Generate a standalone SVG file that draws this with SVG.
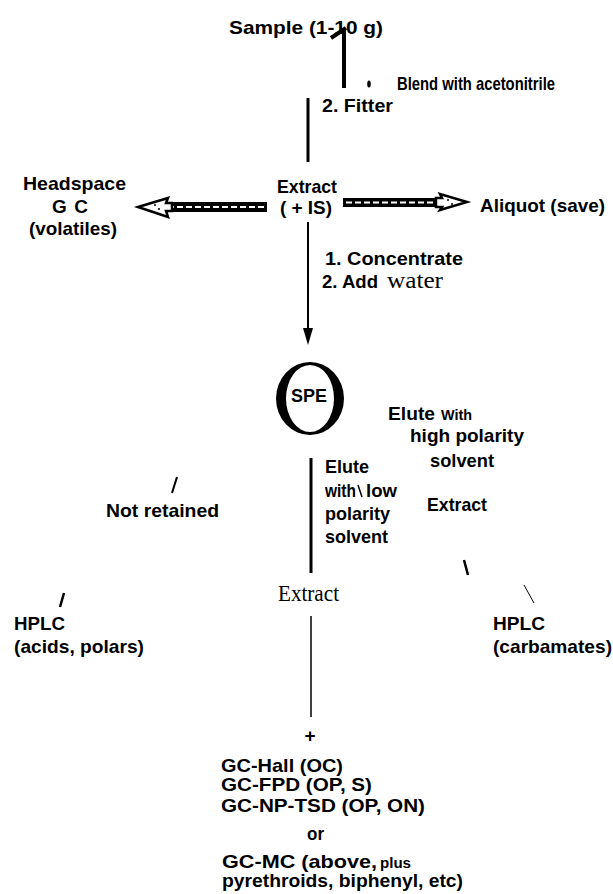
<svg xmlns="http://www.w3.org/2000/svg" width="613" height="894" viewBox="0 0 613 894">
<style>
.b{font-family:"Liberation Sans",Arial,sans-serif;font-weight:bold;font-size:19px;fill:#000}
.sm{font-size:14px}
.se{font-family:"Liberation Serif","Times New Roman",serif;font-weight:normal;font-size:23px;fill:#000}
.ln{stroke:#000;fill:none;stroke-linecap:butt}
.arr{fill:#fff;stroke:#000;stroke-width:2.5;stroke-linejoin:miter}
.dash{stroke:#fff;stroke-width:2;stroke-dasharray:6 3;fill:none}
</style>
<rect width="613" height="894" fill="#fff"/>
<g id="connectors">
  <line class="ln" x1="344" y1="28" x2="344" y2="88" stroke-width="4"/>
  <line class="ln" x1="331" y1="38" x2="346" y2="28" stroke-width="4"/>
  <ellipse cx="369" cy="84" rx="1.8" ry="3.5" fill="#000"/>
  <line class="ln" x1="308" y1="98" x2="308" y2="162" stroke-width="3"/>
  <line class="ln" x1="308" y1="222" x2="308" y2="332" stroke-width="2"/>
  <path d="M303,328 L313,328 L308,345 Z" fill="#000"/>
  <g id="arrow-left">
    <rect x="165" y="202" width="102" height="10" fill="#000"/>
    <line class="dash" x1="168" y1="207" x2="264" y2="207"/>
    <path class="arr" d="M138,207 L168,198 L166,203 L172,203 L172,211 L166,211 L168,217 Z"/>
    <circle cx="155" cy="205" r="1" fill="#000"/>
    <circle cx="159" cy="209" r="1" fill="#000"/>
  </g>
  <g id="arrow-right">
    <rect x="343" y="198" width="100" height="9" fill="#000"/>
    <line class="dash" x1="346" y1="202.5" x2="440" y2="202.5"/>
    <path class="arr" d="M467,202 L440,194 L442,198 L436,198 L436,207 L442,207 L440,210 Z"/>
    <circle cx="448" cy="200" r="1" fill="#000"/>
    <circle cx="452" cy="204" r="1" fill="#000"/>
  </g>
  <line class="ln" x1="311" y1="458" x2="311" y2="573" stroke-width="3"/>
  <line class="ln" x1="358" y1="485" x2="362" y2="497" stroke-width="1.5"/>
  <line class="ln" x1="177" y1="477" x2="172" y2="493" stroke-width="2"/>
  <line class="ln" x1="464" y1="560" x2="468" y2="575" stroke-width="2.5"/>
  <line class="ln" x1="311" y1="616" x2="311" y2="717" stroke-width="1.5"/>
  <line class="ln" x1="64" y1="593" x2="60" y2="607" stroke-width="2.5"/>
  <line class="ln" x1="524" y1="585" x2="534" y2="603" stroke-width="1"/>
  <text class="b" x="310" y="742" text-anchor="middle" font-size="14">+</text>
</g>
<g id="sample"><text class="b" x="229" y="34" font-size="20" textLength="154" lengthAdjust="spacingAndGlyphs">Sample (1-10 g)</text></g>
<g id="blend"><text class="b" x="397" y="90" font-size="18" textLength="158" lengthAdjust="spacingAndGlyphs">Blend  with  acetonitrile</text></g>
<g id="fitter"><text class="b" x="322" y="112" textLength="71" lengthAdjust="spacingAndGlyphs">2. Fitter</text></g>
<g id="headspace">
  <text class="b" x="23" y="190" textLength="103" lengthAdjust="spacingAndGlyphs">Headspace</text>
  <text class="b" x="52" y="213" textLength="36" lengthAdjust="spacing">GC</text>
  <text class="b" x="29" y="235" textLength="88" lengthAdjust="spacingAndGlyphs">(volatiles)</text>
</g>
<g id="extract1">
  <text class="b" x="277" y="193" font-size="18" textLength="60" lengthAdjust="spacingAndGlyphs">Extract</text>
  <text class="b" x="280" y="214" font-size="18" textLength="52" lengthAdjust="spacingAndGlyphs">( + IS)</text>
</g>
<g id="aliquot"><text class="b" x="480" y="212" textLength="125" lengthAdjust="spacingAndGlyphs">Aliquot  (save)</text></g>
<g id="concentrate">
  <text class="b" x="325" y="265" textLength="138" lengthAdjust="spacingAndGlyphs">1.  Concentrate</text>
  <text class="b" x="322" y="288" textLength="56" lengthAdjust="spacingAndGlyphs">2. Add</text>
  <text class="se" x="387" y="288" textLength="56" lengthAdjust="spacingAndGlyphs">water</text>
</g>
<g id="spe">
  <path d="M276,398.5 A34,36.5 0 1,0 344,398.5 A34,36.5 0 1,0 276,398.5 Z M286,398.5 A24,33.5 0 1,1 334,398.5 A24,33.5 0 1,1 286,398.5 Z" fill="#000" fill-rule="evenodd"/>
  <text class="b" x="291" y="402" font-size="18" textLength="36" lengthAdjust="spacingAndGlyphs">SPE</text>
</g>
<g id="elute-high">
  <text class="b" x="388" y="420" textLength="47" lengthAdjust="spacingAndGlyphs">Elute</text>
  <text class="b sm" x="441" y="420" textLength="31" lengthAdjust="spacingAndGlyphs">With</text>
  <text class="b" x="410" y="442" textLength="114" lengthAdjust="spacingAndGlyphs">high  polarity</text>
  <text class="b" x="430" y="467" textLength="64" lengthAdjust="spacingAndGlyphs">solvent</text>
</g>
<g id="extract-right"><text class="b" x="427" y="511" textLength="60" lengthAdjust="spacingAndGlyphs">Extract</text></g>
<g id="elute-low">
  <text class="b" x="325" y="473" textLength="44" lengthAdjust="spacingAndGlyphs">Elute</text>
  <text class="b" x="325" y="497" textLength="31" lengthAdjust="spacingAndGlyphs">with</text>
  <text class="b" x="366" y="497" textLength="31" lengthAdjust="spacingAndGlyphs">low</text>
  <text class="b" x="325" y="520" textLength="65" lengthAdjust="spacingAndGlyphs">polarity</text>
  <text class="b" x="325" y="543" textLength="63" lengthAdjust="spacingAndGlyphs">solvent</text>
</g>
<g id="not-retained"><text class="b" x="106" y="517" textLength="113" lengthAdjust="spacingAndGlyphs">Not  retained</text></g>
<g id="extract-serif"><text class="se" x="278" y="601" textLength="61" lengthAdjust="spacingAndGlyphs">Extract</text></g>
<g id="hplc-left">
  <text class="b" x="14" y="630" textLength="51" lengthAdjust="spacingAndGlyphs">HPLC</text>
  <text class="b" x="14" y="653" textLength="130" lengthAdjust="spacingAndGlyphs">(acids,  polars)</text>
</g>
<g id="hplc-right">
  <text class="b" x="493" y="630" textLength="52" lengthAdjust="spacingAndGlyphs">HPLC</text>
  <text class="b" x="493" y="653" textLength="119" lengthAdjust="spacingAndGlyphs">(carbamates)</text>
</g>
<g id="gc">
  <text class="b" x="221" y="772" textLength="122" lengthAdjust="spacingAndGlyphs">GC-Hall  (OC)</text>
  <text class="b" x="221" y="791" textLength="151" lengthAdjust="spacingAndGlyphs">GC-FPD  (OP,  S)</text>
  <text class="b" x="221" y="812" textLength="204" lengthAdjust="spacingAndGlyphs">GC-NP-TSD  (OP,  ON)</text>
  <text class="b" x="307" y="840" textLength="17" lengthAdjust="spacingAndGlyphs">or</text>
  <text class="b" x="222" y="868" textLength="155" lengthAdjust="spacingAndGlyphs">GC-MC (above,</text>
  <text class="b sm" x="380" y="868" textLength="31" lengthAdjust="spacingAndGlyphs">plus</text>
  <text class="b" x="222" y="887" textLength="241" lengthAdjust="spacingAndGlyphs">pyrethroids,  biphenyl,  etc)</text>
</g>
</svg>
